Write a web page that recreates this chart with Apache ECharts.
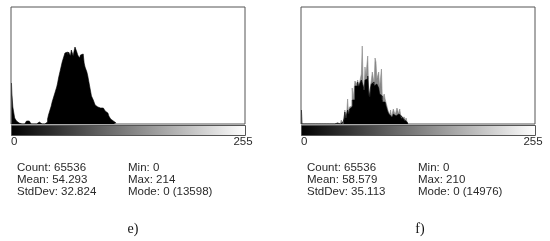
<!DOCTYPE html>
<html>
<head>
<meta charset="utf-8">
<script src="https://cdn.jsdelivr.net/npm/echarts@6/dist/echarts.min.js"></script>
<style>
  html, body { margin: 0; padding: 0; background: #fff; }
  #chart { width: 550px; height: 241px; }
</style>
</head>
<body>
<div id="chart"></div>
<script>
// histogram bar heights (bins 0..n, rest empty)
const histE = [
  41, 30, 17, 15, 6, 5, 3, 2, 1, 0, 0, 0, 0, 0, 0, 0,
  1, 3, 4, 3, 2, 1, 0, 0, 0, 0, 0, 0, 0, 1, 2, 1,
  1, 0, 0, 0, 0, 0, 1, 2, 5, 9, 12, 15, 18, 22, 25, 28,
  31, 34, 37, 41, 46, 50, 54, 58, 62, 65, 68, 71, 70, 72, 69, 72,
  70, 68, 74, 71, 68, 73, 77, 75, 72, 69, 71, 66, 69, 71, 70, 68,
  61, 57, 55, 52, 48, 43, 38, 33, 28, 26, 24, 22, 19, 18, 17, 16,
  15, 16, 15, 15, 16, 15, 14, 13, 12, 11, 10, 8, 6, 5, 4, 3,
  2, 1, 1, 0.5
];
// f) full heights (grey spikes) and solid black body
const histF = [
  14, 0, 0, 0, 0, 0, 0, 0, 0, 0, 0, 0, 0, 0, 0, 0,
  0, 0, 0, 0, 0, 0, 0, 0, 0, 0, 0, 0, 0, 0, 0, 0,
  0, 0, 0, 0, 0, 0, 0, 1, 0, 0, 0, 0, 4, 2, 0, 6,
  14, 6, 11, 25, 10, 17, 16, 18, 36, 25, 24, 43, 44, 40, 44, 38,
  41, 42, 50, 78, 40, 34, 57, 48, 47, 68, 35, 27, 38, 44, 52, 50,
  40, 66, 62, 45, 44, 52, 36, 34, 55, 24, 22, 30, 25, 24, 18, 14,
  12, 9, 14, 7, 9, 15, 15, 9, 11, 16, 14, 10, 15, 9, 6, 6,
  7, 5, 3, 6, 2, 1
];
const bodyF = [
  14, 0, 0, 0, 0, 0, 0, 0, 0, 0, 0, 0, 0, 0, 0, 0,
  0, 0, 0, 0, 0, 0, 0, 0, 0, 0, 0, 0, 0, 0, 0, 0,
  0, 0, 0, 0, 0, 0, 0, 1, 0, 0, 0, 0, 2, 2, 0, 5,
  12, 6, 10, 14, 10, 15, 15, 17, 24, 24, 24, 38, 40, 38, 42, 37,
  40, 40, 44, 44, 38, 34, 44, 44, 45, 48, 35, 27, 36, 40, 38, 42,
  38, 38, 40, 40, 40, 36, 30, 28, 28, 22, 20, 22, 22, 18, 16, 12,
  10, 9, 10, 7, 8, 10, 10, 8, 9, 10, 10, 10, 10, 8, 6, 6,
  5, 4, 3, 3, 2, 1
];
const statsLeftE = ['Count: 65536', 'Mean: 54.293', 'StdDev: 32.824'];
const statsRightE = ['Min: 0', 'Max: 214', 'Mode: 0 (13598)'];
const statsLeftF = ['Count: 65536', 'Mean: 58.579', 'StdDev: 35.113'];
const statsRightF = ['Min: 0', 'Max: 210', 'Mode: 0 (14976)'];
const rangeLabels = ['0', '255'];
const panelLabels = ['e)', 'f)'];
const bins = Array.from({ length: 256 }, (_, i) => i);

const chart = echarts.init(document.getElementById('chart'), null, { renderer: 'canvas' });

const panels = [
  { x: 11, w: 234, statX: 17, statX2: 128, capX: 133, sl: statsLeftE, sr: statsRightE },
  { x: 301, w: 234, statX: 307, statX2: 418, capX: 420, sl: statsLeftF, sr: statsRightF }
];
const TOP = 7, H = 117;

const txt = { fontFamily: 'Liberation Sans', fontSize: 11.5, fill: '#2a2a2a' };
const graphic = [];
panels.forEach((p, k) => {
  graphic.push({
    type: 'rect', silent: true,
    shape: { x: p.x + 0.5, y: TOP + H + 1.5, width: p.w, height: 10 },
    style: {
      fill: new echarts.graphic.LinearGradient(0, 0, 1, 0, [
        { offset: 0, color: '#000' }, { offset: 1, color: '#fff' }
      ]),
      stroke: '#555', lineWidth: 1
    }
  });
  graphic.push({ type: 'text', x: p.x, y: 136, style: Object.assign({ text: rangeLabels[0] }, txt) });
  graphic.push({ type: 'text', x: p.x + p.w - 2, y: 136, style: Object.assign({ text: rangeLabels[1], align: 'center' }, txt) });
  p.sl.forEach((s, i) => graphic.push({ type: 'text', x: p.statX, y: 162 + i * 12, style: Object.assign({ text: s }, txt) }));
  p.sr.forEach((s, i) => graphic.push({ type: 'text', x: p.statX2, y: 162 + i * 12, style: Object.assign({ text: s }, txt) }));
  graphic.push({
    type: 'text', x: p.capX, y: 222,
    style: { text: panelLabels[k], align: 'center', fontFamily: 'Liberation Serif', fontSize: 14, fill: '#111' }
  });
});

function areaSeries(idx, data, color) {
  return {
    type: 'line', xAxisIndex: idx, yAxisIndex: idx, data: data, step: 'middle',
    showSymbol: false, silent: true, animation: false,
    lineStyle: { width: 0.6, color: color }, areaStyle: { color: color, opacity: 1 }
  };
}

chart.setOption({
  animation: false,
  backgroundColor: '#fff',
  grid: panels.map(p => ({
    left: p.x, top: TOP, width: p.w, height: H, show: true,
    borderColor: '#555', borderWidth: 1, backgroundColor: '#fff'
  })),
  xAxis: panels.map((p, i) => ({
    type: 'category', gridIndex: i, data: bins, boundaryGap: true,
    axisLine: { show: false }, axisTick: { show: false }, axisLabel: { show: false }, splitLine: { show: false }
  })),
  yAxis: panels.map((p, i) => ({
    type: 'value', gridIndex: i, min: 0, max: H,
    axisLine: { show: false }, axisTick: { show: false }, axisLabel: { show: false }, splitLine: { show: false }
  })),
  series: [
    areaSeries(0, histE, '#000'),
    areaSeries(1, histF, '#888'),
    areaSeries(1, bodyF, '#000')
  ],
  graphic: graphic
});
</script>
</body>
</html>
